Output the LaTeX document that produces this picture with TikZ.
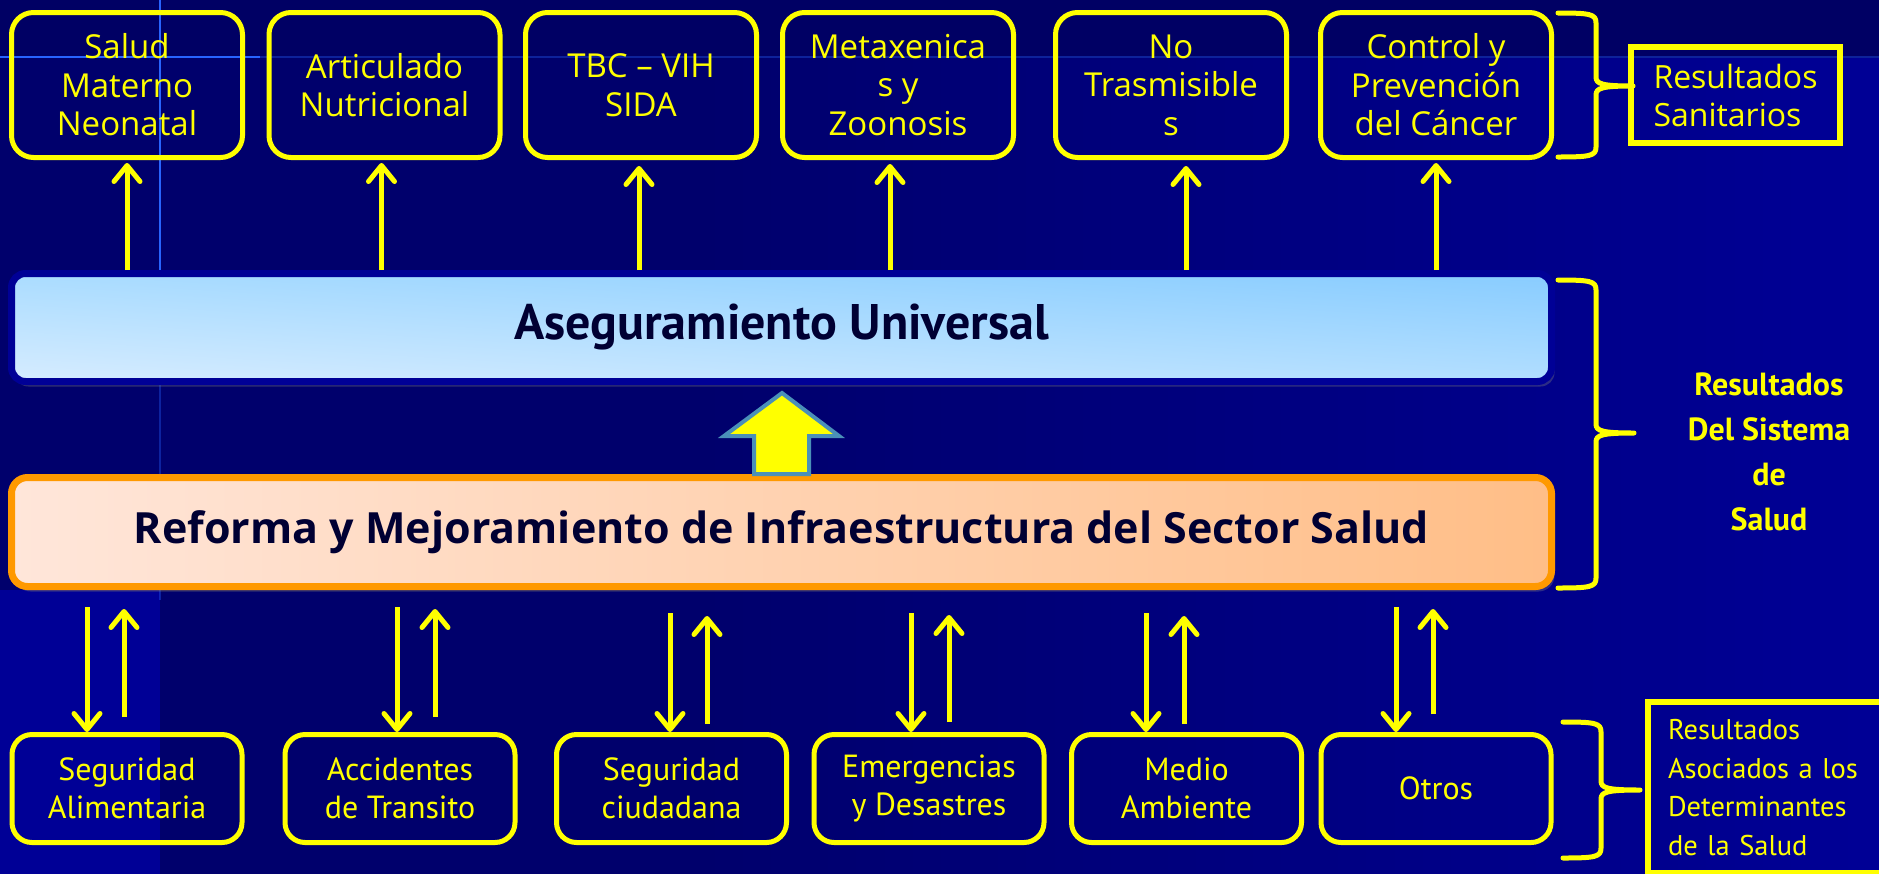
\documentclass[tikz,border=0pt]{standalone}
\usepackage{fontspec}
\setmainfont{PT Sans}
\newfontfamily\comic{Open Sans}
\usetikzlibrary{arrows.meta,shadows,shadings}

\definecolor{fondo}{RGB}{0,0,108}
\definecolor{fondoclaro}{RGB}{0,0,150}
\definecolor{fondotop}{RGB}{0,0,100}
\definecolor{amarillo}{RGB}{255,255,0}
\definecolor{azulborde}{RGB}{0,0,150}
\definecolor{naranja}{RGB}{255,153,0}
\definecolor{tinta}{RGB}{0,0,51}
\definecolor{acero}{RGB}{74,144,184}
\definecolor{linea}{RGB}{40,100,255}

% llave: x extremos, x lomo, x punta, y arriba, y medio, y abajo
\newcommand{\llave}[6]{%
\draw[llavest] (#1,#4) .. controls (#2-6,#4) and (#2,#4+1) .. (#2,#4+10) -- (#2,#5-9)
  .. controls (#2,#5-2) and (#2+6,#5) .. (#3,#5)
  .. controls (#2+6,#5) and (#2,#5+2) .. (#2,#5+9) -- (#2,#6-10)
  .. controls (#2,#6-1) and (#2-6,#6) .. (#1,#6);}

\begin{document}
\begin{tikzpicture}[x=1pt,y=-1pt,
  caja/.style={draw=amarillo,line width=5pt,rounded corners=22pt,minimum width=231pt,minimum height=145pt,
    align=center,text=amarillo,font=\comic\fontsize{33}{38.5}\selectfont},
  cajab/.style={draw=amarillo,line width=5pt,rounded corners=20pt,minimum width=230pt,minimum height=108pt,
    align=center,text=amarillo,font=\fontsize{32}{38}\selectfont},
  flecha/.style={draw=amarillo,line width=5pt,-{Straight Barb[length=16pt,width=26pt,line cap=round,round]}},
  llavest/.style={draw=amarillo,line width=5pt,line cap=round,line join=round},
  rotulo/.style={draw=amarillo,line width=6pt,text=amarillo}]

\useasboundingbox (0,0) rectangle (1879,873);

%fondo
\fill[fondo] (-10,-10) rectangle (1890,885);
\shade[left color=fondo,right color=fondoclaro] (700,58) rectangle (1890,885);
\fill[fondotop] (-10,-10) rectangle (1890,58);
\fill[fondoclaro] (-10,590) rectangle (160,885);
\draw[linea,line width=2.5pt] (160,0) -- (160,270);
\draw[linea,line width=2.5pt] (0,57) -- (260,57);
\draw[linea,opacity=0.35,line width=2pt] (160,270) -- (160,600);
\draw[linea,opacity=0.35,line width=2pt] (260,57) -- (1879,57);

%resultados sanitarios
\node[caja] (t1) at (127,85) {Salud\\Materno\\Neonatal};
\node[caja] (t2) at (384.5,85) {Articulado\\Nutricional};
\node[caja] (t3) at (641,85) {TBC – VIH\\SIDA};
\node[caja] (t4) at (898,85) {Metaxenica\\s y\\Zoonosis};
\node[caja] (t5) at (1171,85) {No\\Trasmisible\\s};
\node[caja] (t6) at (1436,85) {Control y\\Prevención\\del Cáncer};

%sistema
\node[draw=azulborde,line width=7pt,rounded corners=14pt,minimum width=1540pt,minimum height=108pt,
  upper left={rgb,255:red,170;green,220;blue,255},upper right={rgb,255:red,136;green,204;blue,255},
  lower left={rgb,255:red,214;green,236;blue,255},lower right={rgb,255:red,178;green,222;blue,255},
  drop shadow={opacity=0.35,shadow xshift=3pt,shadow yshift=-5pt},
  text=tinta,font=\bfseries\fontsize{50}{54}\selectfont] (au) at (781.5,327.5) {Aseguramiento Universal};

\node[draw=naranja,line width=7pt,rounded corners=16pt,minimum width=1540pt,minimum height=109pt,
  left color={rgb,255:red,255;green,230;blue,218},right color={rgb,255:red,255;green,190;blue,135},
  drop shadow={opacity=0.35,shadow xshift=3pt,shadow yshift=-5pt},
  text=tinta,font=\comic\bfseries\fontsize{43}{47}\selectfont] (rm) at (781.5,532)
  {Reforma y Mejoramiento de Infraestructura del Sector Salud};

\draw[fill=amarillo,draw=acero,line width=4pt,line join=miter] (782,393) -- (839,436) -- (809,436)
  -- (809,474) -- (754,474) -- (754,436) -- (724,436) -- cycle;

%determinantes
\node[cajab] (b1) at (127,788.5) {Seguridad\\Alimentaria};
\node[cajab] (b2) at (400,788.5) {Accidentes\\de Transito};
\node[cajab] (b3) at (671.5,788.5) {Seguridad\\ciudadana};
\node[cajab] (b4) at (929,788.5) {Emergencias\\y Desastres};
\node[cajab] (b5) at (1186.5,788.5) {Medio\\Ambiente};
\node[cajab] (b6) at (1436,788.5) {Otros};

%flechas hacia arriba
\draw[flecha,shorten >=3pt] (t1.south |- au.north) -- (t1.south);
\draw[flecha,shorten >=3pt] ([xshift=-3pt]t2.south |- au.north) -- ([xshift=-3pt]t2.south);
\draw[flecha,shorten >=6pt] ([xshift=-2pt]t3.south |- au.north) -- ([xshift=-2pt]t3.south);
\draw[flecha,shorten >=4pt] ([xshift=-8pt]t4.south |- au.north) -- ([xshift=-8pt]t4.south);
\draw[flecha,shorten >=6pt] ([xshift=15pt]t5.south |- au.north) -- ([xshift=15pt]t5.south);
\draw[flecha,shorten >=3pt] (t6.south |- au.north) -- (t6.south);

%flechas de ida y vuelta
\draw[flecha,shorten <=17pt] ([xshift=-40pt]b1.north |- rm.south) -- ([xshift=-40pt]b1.north);
\draw[flecha,shorten <=15pt,shorten >=19pt] ([xshift=-3pt]b1.north) -- ([xshift=-3pt]b1.north |- rm.south);
\draw[flecha,shorten <=17pt] ([xshift=-3pt]b2.north |- rm.south) -- ([xshift=-3pt]b2.north);
\draw[flecha,shorten <=15pt,shorten >=19pt] ([xshift=35pt]b2.north) -- ([xshift=35pt]b2.north |- rm.south);
\draw[flecha,shorten <=23pt] ([xshift=-1.5pt]b3.north |- rm.south) -- ([xshift=-1.5pt]b3.north);
\draw[flecha,shorten <=8pt,shorten >=26pt] ([xshift=35.5pt]b3.north) -- ([xshift=35.5pt]b3.north |- rm.south);
\draw[flecha,shorten <=23pt] ([xshift=-18pt]b4.north |- rm.south) -- ([xshift=-18pt]b4.north);
\draw[flecha,shorten <=10pt,shorten >=25pt] ([xshift=20pt]b4.north) -- ([xshift=20pt]b4.north |- rm.south);
\draw[flecha,shorten <=23pt] ([xshift=-40.5pt]b5.north |- rm.south) -- ([xshift=-40.5pt]b5.north);
\draw[flecha,shorten <=8pt,shorten >=26pt] ([xshift=-2.5pt]b5.north) -- ([xshift=-2.5pt]b5.north |- rm.south);
\draw[flecha,shorten <=17pt] ([xshift=-40pt]b6.north |- rm.south) -- ([xshift=-40pt]b6.north);
\draw[flecha,shorten <=18pt,shorten >=19pt] ([xshift=-3pt]b6.north) -- ([xshift=-3pt]b6.north |- rm.south);

%llaves y rotulos
\llave{1558}{1596}{1633}{13}{86}{157}
\llave{1558}{1596}{1634}{280}{433}{588}
\llave{1563}{1601}{1640}{722}{790}{858}

\node[rotulo,minimum width=209pt,minimum height=96pt,align=left,font=\comic\fontsize{32}{38}\selectfont]
  (rsan) at (1735.5,95) {Resultados\\Sanitarios};
\node[text=amarillo,align=center,font=\bfseries\fontsize{32}{45}\selectfont]
  (rsis) at (1769,452) {Resultados\\Del Sistema\\de\\Salud};
\node[rotulo,anchor=north west,text width=250pt,inner xsep=20pt,minimum height=171pt,align=left,
  font=\fontsize{28.5}{38.5}\selectfont] (rdet) at (1645,699)
  {Resultados\\Asociados a los\\Determinantes\\de la Salud};

\end{tikzpicture}
\end{document}
